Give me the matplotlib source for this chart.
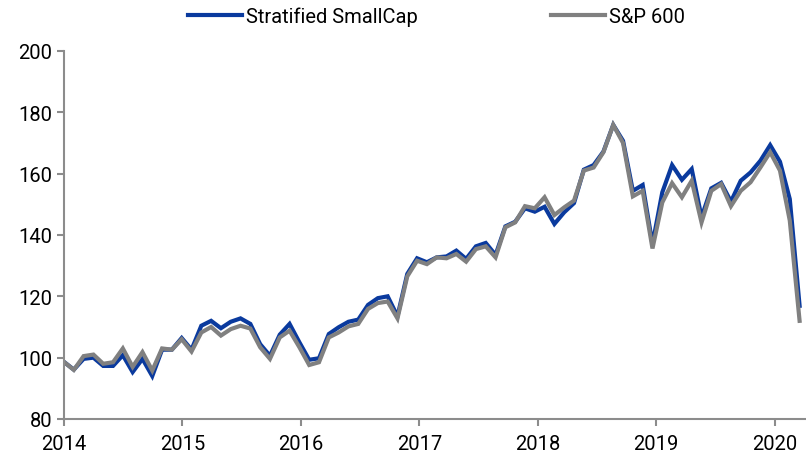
import numpy as np
import matplotlib.pyplot as plt

# monthly index levels, Jan 2014 .. early 2020
stratified = [98.6, 96.1, 99.6, 100.0, 97.3, 97.3, 100.8, 95.3, 99.6, 94.0, 102.6, 102.6,
              106.4, 102.6, 110.4, 112.0, 109.6, 111.7, 112.8, 111.0, 104.4, 100.6, 107.5, 111.0,
              105.0, 99.3, 99.8, 107.7, 109.9, 111.7, 112.4, 117.2, 119.4, 120.0, 113.5, 127.3,
              132.4, 131.1, 132.7, 133.0, 134.9, 132.2, 136.3, 137.4, 133.5, 142.8, 144.3, 148.7,
              147.6, 149.2, 143.6, 147.4, 150.4, 161.3, 162.8, 167.2, 175.9, 170.7, 154.4, 156.3,
              137.0, 153.9, 162.8, 158.0, 161.5, 145.8, 155.2, 157.0, 150.9, 157.7, 160.4, 164.2,
              169.3, 163.9, 151.7, 116.9]
sp600 = [98.6, 96.0, 100.5, 101.0, 98.0, 98.5, 103.0, 97.0, 101.8, 95.8, 103.0, 102.6,
         106.0, 102.0, 108.2, 110.0, 107.2, 109.3, 110.4, 109.5, 103.4, 99.6, 106.6, 108.8,
         103.4, 97.6, 98.5, 106.6, 108.2, 110.2, 111.0, 115.9, 117.8, 118.3, 112.8, 126.5,
         131.6, 130.5, 132.7, 132.4, 133.8, 131.3, 135.4, 136.3, 132.7, 142.5, 144.1, 149.4,
         148.7, 152.3, 146.5, 149.0, 151.2, 161.0, 162.0, 167.0, 175.9, 170.0, 152.6, 154.4,
         135.6, 150.6, 156.9, 152.3, 157.7, 144.1, 154.4, 156.6, 149.4, 154.4, 157.2, 162.0,
         167.0, 161.0, 144.7, 112.0]
start_year = 2014
end_year = 2020.21
year_ticks = [2014, 2015, 2016, 2017, 2018, 2019, 2020]
y_ticks = [80, 100, 120, 140, 160, 180, 200]

x = np.linspace(start_year, end_year, len(stratified))

plt.rcParams['font.family'] = ['Roboto', 'DejaVu Sans']

fig = plt.figure(figsize=(8.06, 4.56), dpi=100)
ax = fig.add_axes([0.0794, 0.079, 0.92, 0.807])

ax.plot(x, stratified, color='#0a3a9e', lw=3.0, label='Stratified SmallCap', solid_joinstyle='miter')
ax.plot(x, sp600, color='#808080', lw=3.0, label='S&P 600', solid_joinstyle='miter')

ax.set_xlim(2014, 2020.26)
ax.set_ylim(80, 200)
ax.set_xticks(year_ticks)
ax.set_xticklabels([str(y) for y in year_ticks])
ax.set_yticks(y_ticks)

for s in ['top', 'right']:
    ax.spines[s].set_visible(False)
for s in ['left', 'bottom']:
    ax.spines[s].set_color('#8c8c8c')
    ax.spines[s].set_linewidth(1.5)
ax.tick_params(colors='#8c8c8c', labelcolor='black', length=5, width=1.5, labelsize=14.5)
ax.tick_params(axis='x', pad=6)

ax.legend(loc='upper center', bbox_to_anchor=(0.502, 1.17), ncol=2, frameon=False,
          fontsize=14.5, handlelength=2.7, handletextpad=0.2, columnspacing=6.6)

fig.savefig('out.png', dpi=100)
